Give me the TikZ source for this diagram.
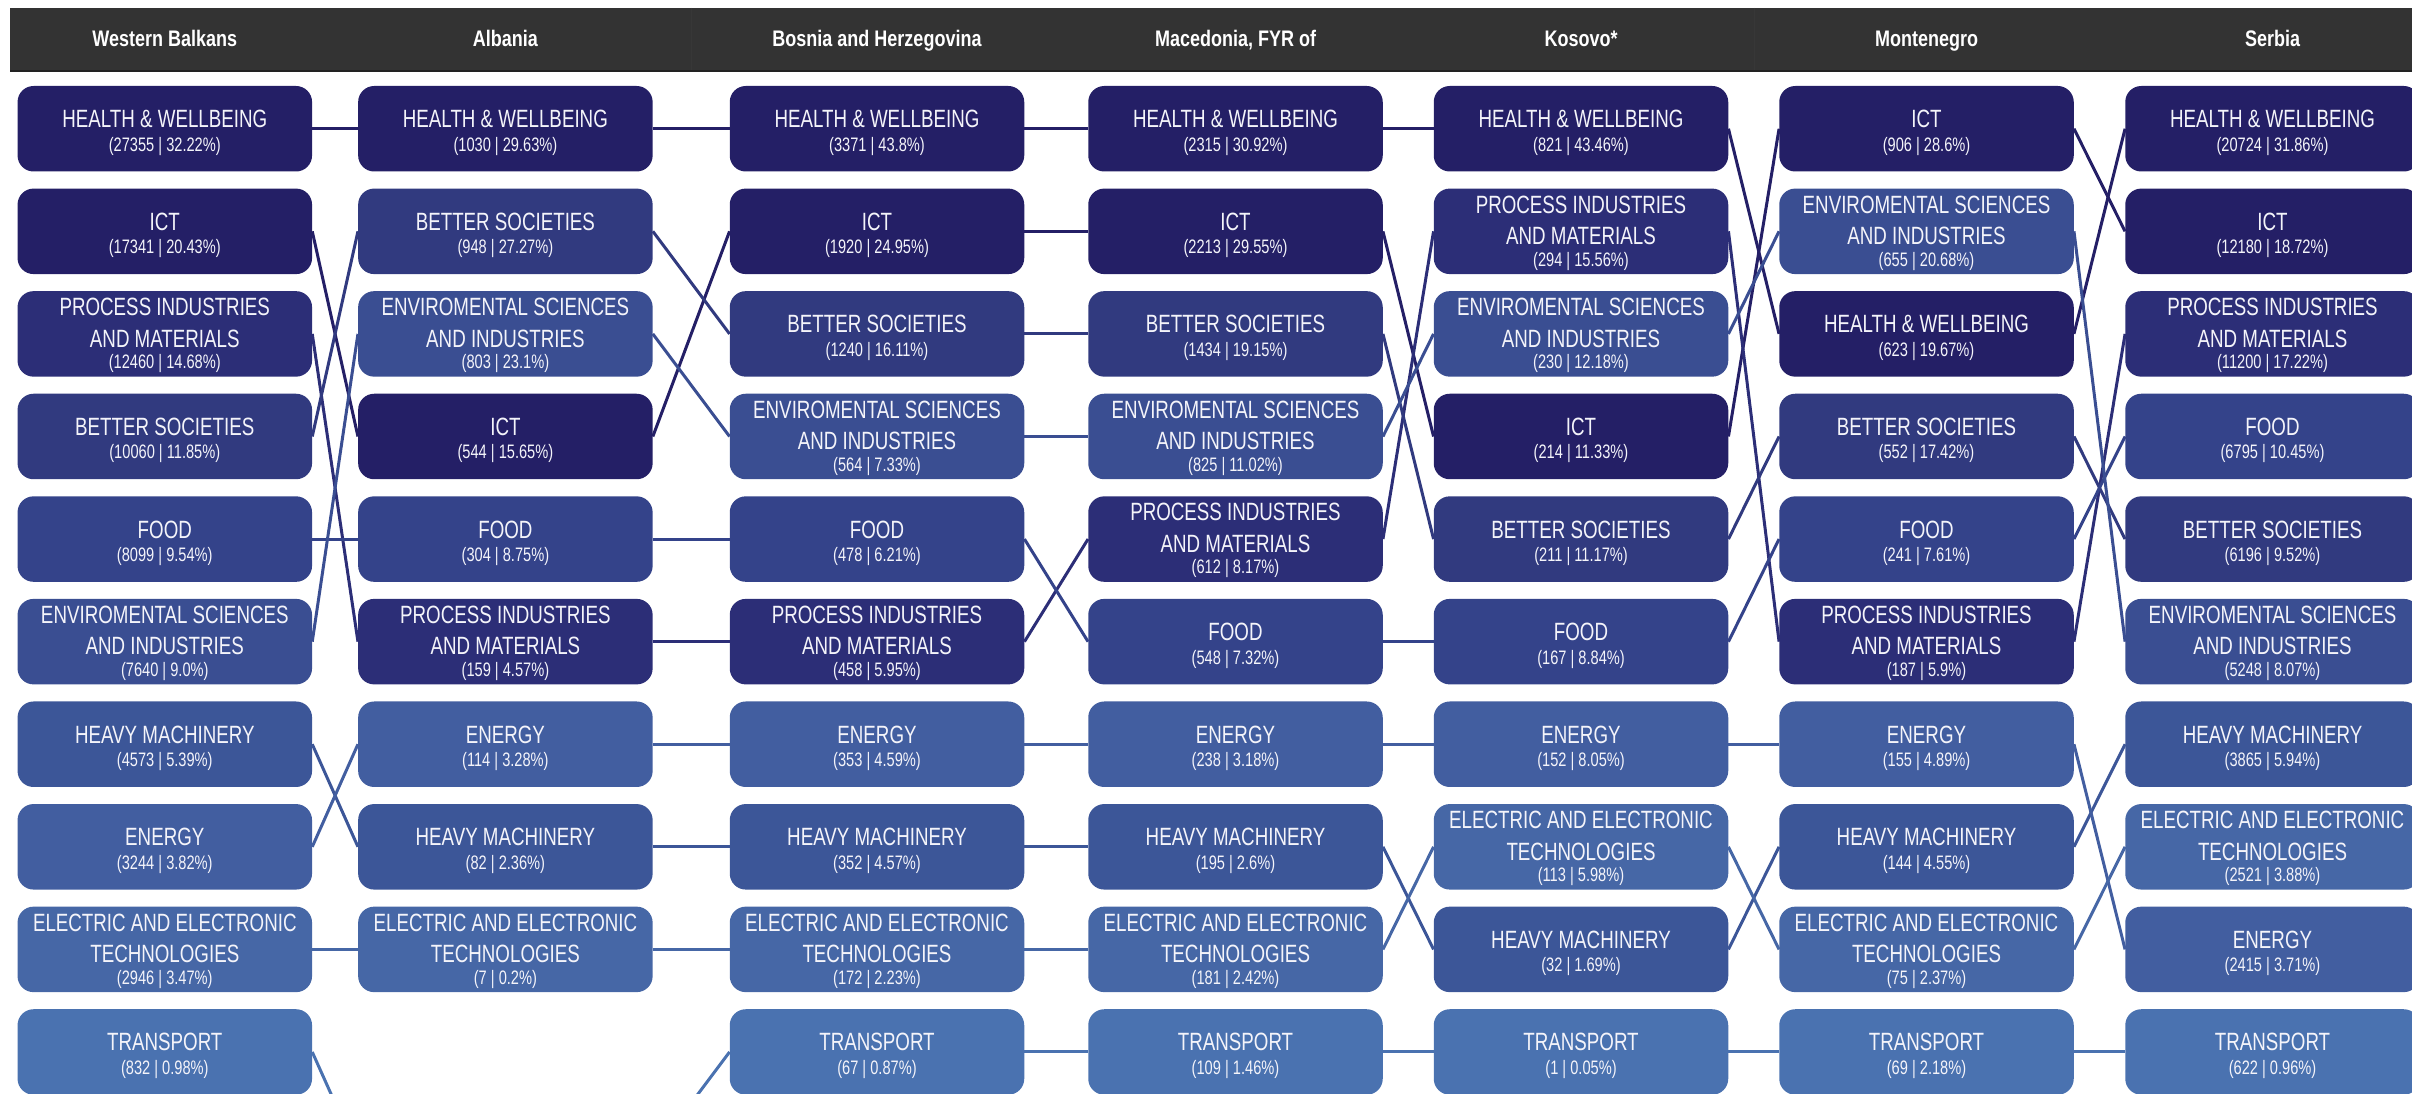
\documentclass[tikz,border=0pt]{standalone}
\usepackage{fontspec}
\newfontfamily\nmfont{Liberation Sans}[FakeStretch=0.75]
\newfontfamily\hdfont{Liberation Sans}[FakeStretch=0.8]
\usetikzlibrary{backgrounds}
\definecolor{hdrbg}{HTML}{333333}
\definecolor{hdrline}{HTML}{222222}
\definecolor{hdrdiv}{HTML}{373737}
\definecolor{chw}{HTML}{241F66}
\definecolor{cict}{HTML}{241F66}
\definecolor{cpim}{HTML}{2C2E77}
\definecolor{cbs}{HTML}{313A7F}
\definecolor{cfood}{HTML}{34438A}
\definecolor{cenv}{HTML}{3A4E92}
\definecolor{chm}{HTML}{3C5698}
\definecolor{cen}{HTML}{425EA0}
\definecolor{cee}{HTML}{4667A6}
\definecolor{ctr}{HTML}{4A72B0}
\definecolor{txt}{HTML}{F4F4FA}

\newcommand\OneLine[6]{%
  \node[cbox=#4] (#1) at (#2,{128.75+(#3-1)*102.58}) {};
  \node[nmtext] (#1-a) at ([yshift=1pt]#1.center) {#5};
  \node[nbtext] (#1-b) at ([yshift=-22.5pt]#1.center) {#6};
}
\newcommand\TwoLine[7]{%
  \node[cbox=#4] (#1) at (#2,{128.75+(#3-1)*102.58}) {};
  \node[nmtext] (#1-a) at ([yshift=18.2pt]#1.center) {#5};
  \node[nmtext] (#1-c) at ([yshift=-13.2pt]#1.center) {#6};
  \node[nbtext] (#1-b) at ([yshift=-34.8pt]#1.center) {#7};
}
\newcommand\HW[5]{\OneLine{#1-hw}{#2}{#3}{chw}{HEALTH \& WELLBEING}{(#4 | #5\%)}}
\newcommand\ICT[5]{\OneLine{#1-ict}{#2}{#3}{cict}{ICT}{(#4 | #5\%)}}
\newcommand\PIM[5]{\TwoLine{#1-pim}{#2}{#3}{cpim}{PROCESS INDUSTRIES}{AND MATERIALS}{(#4 | #5\%)}}
\newcommand\BS[5]{\OneLine{#1-bs}{#2}{#3}{cbs}{BETTER SOCIETIES}{(#4 | #5\%)}}
\newcommand\FOOD[5]{\OneLine{#1-food}{#2}{#3}{cfood}{FOOD}{(#4 | #5\%)}}
\newcommand\ENV[5]{\TwoLine{#1-env}{#2}{#3}{cenv}{ENVIROMENTAL SCIENCES}{AND INDUSTRIES}{(#4 | #5\%)}}
\newcommand\HM[5]{\OneLine{#1-hm}{#2}{#3}{chm}{HEAVY MACHINERY}{(#4 | #5\%)}}
\newcommand\EN[5]{\OneLine{#1-en}{#2}{#3}{cen}{ENERGY}{(#4 | #5\%)}}
\newcommand\EE[5]{\TwoLine{#1-ee}{#2}{#3}{cee}{ELECTRIC AND ELECTRONIC}{TECHNOLOGIES}{(#4 | #5\%)}}
\newcommand\TR[5]{\OneLine{#1-tr}{#2}{#3}{ctr}{TRANSPORT}{(#4 | #5\%)}}

\begin{document}
\begin{tikzpicture}[x=1pt,y=-1pt,
  cbox/.style={fill=#1, draw=none, rounded corners=16pt, minimum width=294.5pt,
    minimum height=85.5pt, inner sep=0pt},
  nmtext/.style={anchor=base, inner sep=0pt, text=txt, font=\nmfont\fontsize{25}{30}\selectfont},
  nbtext/.style={anchor=base, inner sep=0pt, text=txt, font=\nmfont\fontsize{19.5}{24}\selectfont},
  hdr/.style={anchor=base, inner sep=0pt, text=white, font=\hdfont\bfseries\fontsize{22.5}{26}\selectfont},
  link/.style={draw=#1, line width=3pt}]
\useasboundingbox (0,0) rectangle (2412,1094);
\clip (0,0) rectangle (2412,1094);

% header
\fill[hdrbg] (10,8) rectangle (2412,72);
\foreach \dx in {691,1754}
  \draw[hdrdiv, line width=1pt] (\dx,8) -- (\dx,71);
\draw[hdrline, line width=2pt] (10,71) -- (2412,71);
\node[hdr] (h-wb) at (164.8,47) {Western Balkans};
\node[hdr] (h-al) at (505.4,47) {Albania};
\node[hdr] (h-ba) at (877,47) {Bosnia and Herzegovina};
\node[hdr] (h-mk) at (1235.5,47) {Macedonia, FYR of};
\node[hdr] (h-xk) at (1581,47) {Kosovo*};
\node[hdr] (h-me) at (1926.5,47) {Montenegro};
\node[hdr] (h-rs) at (2272.5,47) {Serbia};

% Western Balkans
\HW{wb}{164.8}{1}{27355}{32.22}
\ICT{wb}{164.8}{2}{17341}{20.43}
\PIM{wb}{164.8}{3}{12460}{14.68}
\BS{wb}{164.8}{4}{10060}{11.85}
\FOOD{wb}{164.8}{5}{8099}{9.54}
\ENV{wb}{164.8}{6}{7640}{9.0}
\HM{wb}{164.8}{7}{4573}{5.39}
\EN{wb}{164.8}{8}{3244}{3.82}
\EE{wb}{164.8}{9}{2946}{3.47}
\TR{wb}{164.8}{10}{832}{0.98}

% Albania
\HW{al}{505.4}{1}{1030}{29.63}
\BS{al}{505.4}{2}{948}{27.27}
\ENV{al}{505.4}{3}{803}{23.1}
\ICT{al}{505.4}{4}{544}{15.65}
\FOOD{al}{505.4}{5}{304}{8.75}
\PIM{al}{505.4}{6}{159}{4.57}
\EN{al}{505.4}{7}{114}{3.28}
\HM{al}{505.4}{8}{82}{2.36}
\EE{al}{505.4}{9}{7}{0.2}
\coordinate (al-tr-in) at ({505.4-147.25},{128.75+10*102.58});
\coordinate (al-tr-out) at ({505.4+147.25},{128.75+10*102.58});

% Bosnia and Herzegovina
\HW{ba}{877}{1}{3371}{43.8}
\ICT{ba}{877}{2}{1920}{24.95}
\BS{ba}{877}{3}{1240}{16.11}
\ENV{ba}{877}{4}{564}{7.33}
\FOOD{ba}{877}{5}{478}{6.21}
\PIM{ba}{877}{6}{458}{5.95}
\EN{ba}{877}{7}{353}{4.59}
\HM{ba}{877}{8}{352}{4.57}
\EE{ba}{877}{9}{172}{2.23}
\TR{ba}{877}{10}{67}{0.87}

% Macedonia
\HW{mk}{1235.5}{1}{2315}{30.92}
\ICT{mk}{1235.5}{2}{2213}{29.55}
\BS{mk}{1235.5}{3}{1434}{19.15}
\ENV{mk}{1235.5}{4}{825}{11.02}
\PIM{mk}{1235.5}{5}{612}{8.17}
\FOOD{mk}{1235.5}{6}{548}{7.32}
\EN{mk}{1235.5}{7}{238}{3.18}
\HM{mk}{1235.5}{8}{195}{2.6}
\EE{mk}{1235.5}{9}{181}{2.42}
\TR{mk}{1235.5}{10}{109}{1.46}

% Kosovo
\HW{xk}{1581}{1}{821}{43.46}
\PIM{xk}{1581}{2}{294}{15.56}
\ENV{xk}{1581}{3}{230}{12.18}
\ICT{xk}{1581}{4}{214}{11.33}
\BS{xk}{1581}{5}{211}{11.17}
\FOOD{xk}{1581}{6}{167}{8.84}
\EN{xk}{1581}{7}{152}{8.05}
\EE{xk}{1581}{8}{113}{5.98}
\HM{xk}{1581}{9}{32}{1.69}
\TR{xk}{1581}{10}{1}{0.05}

% Montenegro
\ICT{me}{1926.5}{1}{906}{28.6}
\ENV{me}{1926.5}{2}{655}{20.68}
\HW{me}{1926.5}{3}{623}{19.67}
\BS{me}{1926.5}{4}{552}{17.42}
\FOOD{me}{1926.5}{5}{241}{7.61}
\PIM{me}{1926.5}{6}{187}{5.9}
\EN{me}{1926.5}{7}{155}{4.89}
\HM{me}{1926.5}{8}{144}{4.55}
\EE{me}{1926.5}{9}{75}{2.37}
\TR{me}{1926.5}{10}{69}{2.18}

% Serbia
\HW{rs}{2272.5}{1}{20724}{31.86}
\ICT{rs}{2272.5}{2}{12180}{18.72}
\PIM{rs}{2272.5}{3}{11200}{17.22}
\FOOD{rs}{2272.5}{4}{6795}{10.45}
\BS{rs}{2272.5}{5}{6196}{9.52}
\ENV{rs}{2272.5}{6}{5248}{8.07}
\HM{rs}{2272.5}{7}{3865}{5.94}
\EE{rs}{2272.5}{8}{2521}{3.88}
\EN{rs}{2272.5}{9}{2415}{3.71}
\TR{rs}{2272.5}{10}{622}{0.96}

% connectors
\begin{scope}[on background layer]
\clip (0,0) rectangle (2412,1094);
\foreach \a/\b in {wb/al,al/ba,ba/mk,mk/xk,xk/me,me/rs}{
  \foreach \c in {hw,ict,pim,bs,food,env,hm,en,ee}{
    \draw[link=c\c] (\a-\c.east) -- (\b-\c.west);
  }
}
\foreach \a/\b in {ba/mk,mk/xk,xk/me,me/rs}
  \draw[link=ctr] (\a-tr.east) -- (\b-tr.west);
\draw[link=ctr] (wb-tr.east) -- (al-tr-in);
\draw[link=ctr] (al-tr-out) -- (ba-tr.west);
\end{scope}
\end{tikzpicture}
\end{document}
